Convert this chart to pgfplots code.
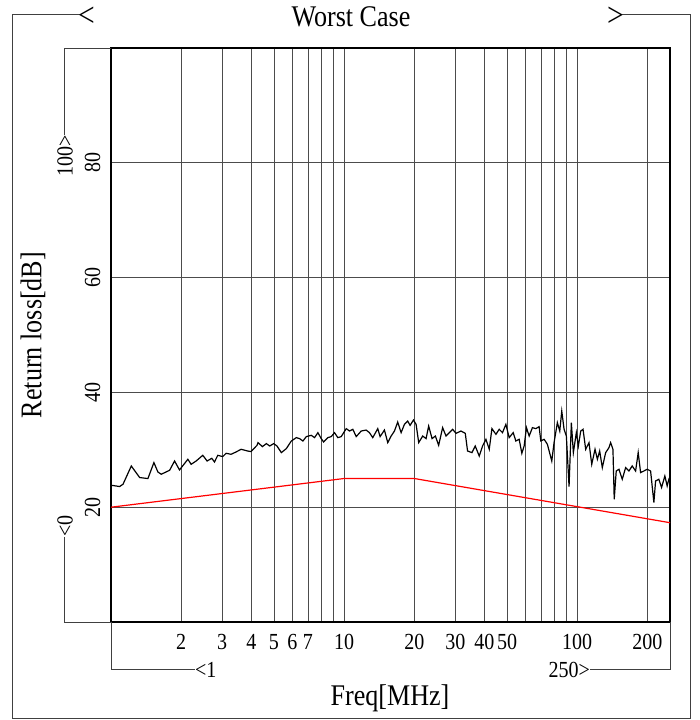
\documentclass[border=0pt]{standalone}
\usepackage{fontspec}
\setmainfont[FakeStretch=0.87]{Liberation Serif}
\usepackage{pgfplots}
\pgfplotsset{compat=1.18}
\begin{document}
\begin{tikzpicture}[x=1pt,y=1pt]
\path[use as bounding box] (0,0) rectangle (700,-720);
\begin{axis}[
  at={(111pt,-622pt)}, anchor=south west,
  scale only axis, width=559pt, height=574pt,
  xmode=log, xmin=1, xmax=250, ymin=0, ymax=100,
  xtick={2,3,4,5,6,7,10,20,30,40,50,100,200},
  xticklabels={2,3,4,5,6,7,10,20,30,40,50,100,200},
  minor xtick={8,9,60,70,80,90},
  ytick={20,40,60,80},
  yticklabels={20,40,60,80},
  grid=both,
  major grid style={black!70, line width=0.8pt},
  minor grid style={black!70, line width=0.8pt},
  major tick length=0pt, minor tick length=0pt,
  axis line style={line width=2pt},
  /pgf/number format/assume math mode=true,
  xticklabel style={font=\fontsize{23}{23}\selectfont, inner sep=0pt, anchor=north},
  xticklabel shift=12pt,
  yticklabel style={font=\fontsize{23}{23}\selectfont, inner sep=0pt, rotate=90, anchor=south},
  yticklabel shift=10.5pt,
]
\addplot[red, line width=1.2pt] coordinates {(1,20) (10,25) (20,25) (250,17.3)};
\addplot[black, line width=1.2pt] coordinates {
(1.00,23.83)(1.089,23.60)(1.126,24.00)(1.222,27.18)(1.327,25.17)(1.440,24.99)
(1.528,27.77)(1.589,26.14)(1.642,25.74)(1.784,26.43)(1.874,28.05)(1.968,26.49)
(2.136,28.35)(2.207,27.48)(2.319,28.05)(2.476,29.04)(2.584,28.05)(2.706,28.52)
(2.779,27.88)(2.871,29.04)(3.016,28.82)(3.116,29.39)(3.273,29.22)(3.439,29.62)
(3.613,30.09)(3.859,29.79)(3.987,29.69)(4.230,30.78)(4.272,31.25)(4.461,30.56)
(4.640,31.08)(4.794,30.66)(4.987,31.08)(5.152,30.66)(5.380,29.51)(5.651,30.21)
(5.936,31.53)(6.237,32.12)(6.443,31.95)(6.656,31.53)(6.884,32.30)(7.232,32.52)
(7.471,32.12)(7.718,32.99)(7.980,31.95)(8.163,31.36)(8.517,32.12)(8.806,32.30)
(9.097,32.99)(9.397,32.12)(9.718,32.30)(10.21,33.69)(10.55,33.27)(10.90,33.57)
(11.27,32.30)(11.84,33.27)(12.43,33.44)(12.84,32.99)(13.27,32.12)(13.94,33.69)
(14.27,32.30)(14.89,33.44)(15.39,31.25)(15.91,32.40)(16.44,33.27)(16.98,34.83)
(17.56,32.99)(18.14,34.43)(18.74,35.01)(19.19,34.26)(19.83,35.18)(20.36,34.43)
(20.89,31.25)(21.73,32.40)(22.47,31.95)(23.05,34.14)(23.84,31.95)(24.63,32.40)
(25.44,30.78)(26.46,33.86)(27.36,32.40)(28.27,32.99)(29.20,33.57)(30.20,32.87)
(31.72,33.27)(33.09,32.87)(33.85,29.79)(35.35,29.51)(36.52,30.66)(37.99,28.92)
(39.25,30.66)(40.59,31.83)(41.93,30.09)(43.06,33.69)(44.79,32.70)(46.27,33.57)
(47.79,32.99)(49.42,34.43)(51.05,32.12)(53.12,32.99)(54.54,31.53)(56.35,31.83)
(57.86,29.39)(59.19,30.66)(60.55,33.86)(62.19,32.40)(64.24,33.86)(66.44,33.69)
(68.63,34.03)(69.80,31.53)(72.11,31.83)(74.47,30.96)(77.77,28.05)(79.56,31.25)
(82.18,34.73)(84.15,33.27)(85.82,36.75)(87.81,33.57)(89.82,32.40)(92.24,23.60)
(94.35,34.73)(96.24,29.51)(99.11,32.99)(101.1,30.66)(103.5,33.27)(105.9,33.57)
(108.7,30.09)(112.3,31.25)(115.4,27.48)(119.2,30.09)(122.0,28.35)(124.8,29.79)
(128.1,26.90)(132.4,29.51)(136.8,30.38)(139.1,31.25)(142.3,30.09)(144.1,21.39)
(147.0,26.31)(151.0,26.61)(156.0,24.87)(161.3,26.90)(166.6,26.31)(172.1,27.18)
(178.0,26.31)(182.6,29.51)(187.0,26.03)(193.2,26.31)(199.6,26.61)(206.4,26.31)
(213.2,20.82)(216.8,24.57)(223.9,24.87)(230.0,23.43)(237.6,25.44)(243.1,23.70)
(247.2,24.87)(250,24.5)
};
\end{axis}
% outer frame
\draw[black!75, line width=1pt] (80,-14) -- (12,-14) -- (12,-718) -- (690,-718) -- (690,-14) -- (622,-14);
\node[anchor=base west, inner sep=0pt, font=\fontsize{34}{34}\selectfont] at (78,-27) {<};
\node[anchor=base east, inner sep=0pt, font=\fontsize{34}{34}\selectfont] at (624,-27) {>};
\node[anchor=base, inner sep=0pt, font=\fontsize{30}{30}\selectfont] at (351,-26) {Worst Case};
% inner y bracket
\draw[black!75, line width=1pt] (111,-48) -- (64,-48) -- (64,-135);
\draw[black!75, line width=1pt] (64,-537) -- (64,-622) -- (111,-622);
\node[rotate=90, anchor=base east, inner sep=0pt, font=\fontsize{23}{23}\selectfont] at (72.5,-135) {100>};
\node[rotate=90, anchor=base west, inner sep=0pt, font=\fontsize{23}{23}\selectfont] at (72.5,-537) {<0};
% inner x bracket
\draw[black!75, line width=1pt] (111,-622) -- (111,-669) -- (195,-669);
\draw[black!75, line width=1pt] (590,-669) -- (670,-669) -- (670,-622);
\node[anchor=base west, inner sep=0pt, font=\fontsize{23}{23}\selectfont] at (195,-677.5) {<1};
\node[anchor=base east, inner sep=0pt, font=\fontsize{23}{23}\selectfont] at (590,-677.5) {250>};
% axis labels
\node[rotate=90, inner sep=0pt, font=\fontsize{30}{30}\selectfont] at (33,-335) {Return loss[dB]};
\node[inner sep=0pt, font=\fontsize{30}{30}\selectfont] at (390,-698) {Freq[MHz]};
\end{tikzpicture}
\end{document}
